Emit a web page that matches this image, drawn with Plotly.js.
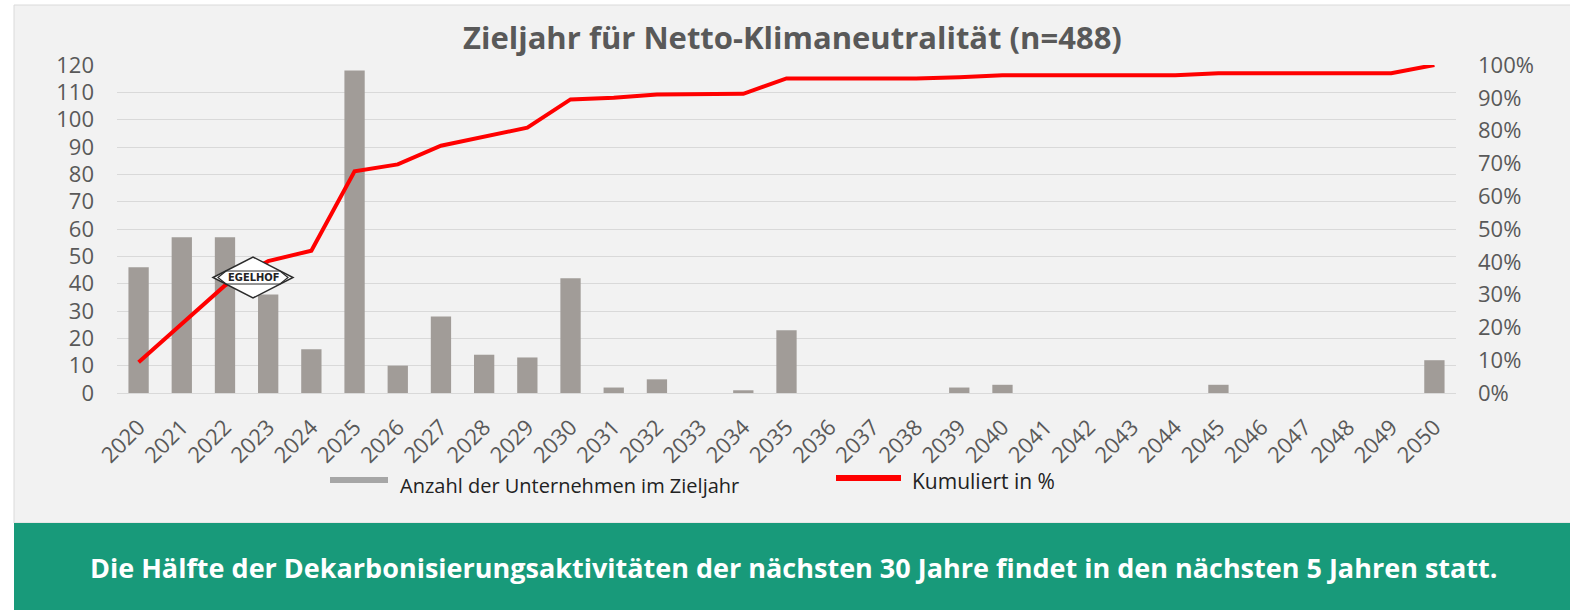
<!DOCTYPE html>
<html>
<head>
<meta charset="utf-8">
<script src="https://cdn.plot.ly/plotly-3.0.1.min.js"></script>
<style>
  html, body { margin: 0; padding: 0; background: #ffffff; }
  #chart { width: 1570px; height: 610px; }
</style>
</head>
<body>
<div id="chart"></div>
<script>
// ---- data ----
const years = ['2020','2021','2022','2023','2024','2025','2026','2027','2028','2029','2030',
               '2031','2032','2033','2034','2035','2036','2037','2038','2039','2040',
               '2041','2042','2043','2044','2045','2046','2047','2048','2049','2050'];
const companies = [46, 57, 57, 36, 16, 118, 10, 28, 14, 13, 42,
                   2, 5, 0, 1, 23, 0, 0, 0, 2, 3,
                   0, 0, 0, 0, 3, 0, 0, 0, 0, 12];
const cumulativePct = [9.4, 21.1, 32.8, 40.2, 43.4, 67.6, 69.7, 75.4, 78.3, 80.9, 89.5,
                       90.0, 91.0, 91.0, 91.2, 95.9, 95.9, 95.9, 95.9, 96.3, 96.9,
                       96.9, 96.9, 96.9, 96.9, 97.5, 97.5, 97.5, 97.5, 97.5, 100];
const leftTicks = [0, 10, 20, 30, 40, 50, 60, 70, 80, 90, 100, 110, 120];
const rightTicks = [0, 10, 20, 30, 40, 50, 60, 70, 80, 90, 100];
const rightTickLabels = ['0%', '10%', '20%', '30%', '40%', '50%', '60%', '70%', '80%', '90%', '100%'];

const chartTitle = 'Zieljahr für Netto-Klimaneutralität (n=488)';
const barName = 'Anzahl der Unternehmen im Zieljahr';
const lineName = 'Kumuliert in %';
const bannerText = 'Die Hälfte der Dekarbonisierungsaktivitäten der nächsten 30 Jahre findet in den nächsten 5 Jahren statt.';

// ---- layout geometry (pixels) ----
const W = 1570, H = 610;
const PL = 117, PR = 1456, PT = 65, PB = 393;
const fx = x => (x - PL) / (PR - PL);
const fy = y => (PB - y) / (PB - PT);
const FONT = 'Open Sans, Noto Sans, sans-serif';
const yTickFont = { family: FONT, size: 22, color: '#595959' };
const xTickFont = { family: FONT, size: 22, color: '#595959' };

const traces = [
  {
    type: 'bar', x: years, y: companies, name: barName, yaxis: 'y',
    marker: { color: '#a19c98', line: { width: 0 } },
    hoverinfo: 'x+y'
  },
  {
    type: 'scatter', mode: 'lines', x: years, y: cumulativePct, name: lineName, yaxis: 'y2',
    line: { color: '#ff0000', width: 4 },
    hoverinfo: 'x+y'
  }
];

// logo (diamond) centre in pixels
const lx = 253, ly = 277.5;
const diamondPath = (cx, cy, hw, hh) =>
  `M ${fx(cx - hw)} ${fy(cy)} L ${fx(cx)} ${fy(cy - hh)} L ${fx(cx + hw)} ${fy(cy)} L ${fx(cx)} ${fy(cy + hh)} Z`;
const bandPath = `M ${fx(lx - 35)} ${fy(ly)} L ${fx(lx - 27)} ${fy(ly - 6.5)} L ${fx(lx + 27)} ${fy(ly - 6.5)} ` +
                 `L ${fx(lx + 35)} ${fy(ly)} L ${fx(lx + 27)} ${fy(ly + 6.5)} L ${fx(lx - 27)} ${fy(ly + 6.5)} Z`;

const shapes = [
  // light panel
  { type: 'rect', xref: 'paper', yref: 'paper', layer: 'below',
    x0: fx(14), x1: fx(1572), y0: fy(5), y1: fy(523),
    fillcolor: '#f2f2f2', line: { color: '#dadada', width: 1 } },
  // green banner
  { type: 'rect', xref: 'paper', yref: 'paper', layer: 'below',
    x0: fx(14), x1: fx(1572), y0: fy(523), y1: fy(612),
    fillcolor: '#189a7a', line: { width: 0 } },
  // legend swatches
  { type: 'rect', xref: 'paper', yref: 'paper',
    x0: fx(330), x1: fx(388), y0: fy(477), y1: fy(483),
    fillcolor: '#a6a6a6', line: { width: 0 } },
  { type: 'rect', xref: 'paper', yref: 'paper',
    x0: fx(836), x1: fx(901), y0: fy(475), y1: fy(481),
    fillcolor: '#ff0000', line: { width: 0 } },
  // logo
  { type: 'path', xref: 'paper', yref: 'paper', path: diamondPath(lx, ly, 40, 20.5),
    fillcolor: '#ffffff', line: { color: '#2b2b2b', width: 1.5 } },
  { type: 'path', xref: 'paper', yref: 'paper', path: bandPath,
    fillcolor: 'rgba(0,0,0,0)', line: { color: '#2b2b2b', width: 1.2 } }
];

const annotations = [
  { xref: 'paper', yref: 'paper', x: fx(792), y: fy(37), xanchor: 'center', yanchor: 'middle',
    showarrow: false, text: chartTitle,
    font: { family: FONT, size: 31, color: '#595959', weight: 700 } },
  { xref: 'paper', yref: 'paper', x: fx(398), y: fy(485), xanchor: 'left', yanchor: 'middle',
    showarrow: false, text: barName,
    font: { family: FONT, size: 20, color: '#222222' } },
  { xref: 'paper', yref: 'paper', x: fx(910), y: fy(481), xanchor: 'left', yanchor: 'middle',
    showarrow: false, text: lineName,
    font: { family: FONT, size: 21, color: '#222222' } },
  { xref: 'paper', yref: 'paper', x: fx(793), y: fy(567), xanchor: 'center', yanchor: 'middle',
    showarrow: false, text: bannerText,
    font: { family: FONT, size: 27, color: '#ffffff', weight: 700 } },
  { xref: 'paper', yref: 'paper', x: fx(lx), y: fy(ly), xanchor: 'center', yanchor: 'middle',
    showarrow: false, text: 'EGELHOF',
    font: { family: 'DejaVu Sans Condensed, DejaVu Sans, sans-serif', size: 11, color: '#222222', weight: 700 } }
];

const layout = {
  width: W, height: H,
  margin: { l: PL, r: W - PR, t: PT, b: H - PB, pad: 0 },
  paper_bgcolor: '#ffffff',
  plot_bgcolor: 'rgba(0,0,0,0)',
  showlegend: false,
  bargap: 0.53,
  font: { family: FONT },
  xaxis: {
    type: 'category', tickangle: -45, tickfont: xTickFont,
    showgrid: false, showline: false, zeroline: false, ticks: '',
    ticklabelstandoff: 16
  },
  yaxis: {
    range: [0, 120], tickvals: leftTicks, tickfont: yTickFont,
    showgrid: true, gridcolor: '#d9d9d9', gridwidth: 1,
    zeroline: true, zerolinecolor: '#d9d9d9', zerolinewidth: 1,
    showline: false, ticks: '', ticklabelstandoff: 22, fixedrange: true
  },
  yaxis2: {
    overlaying: 'y', side: 'right', range: [0, 100],
    tickmode: 'array', tickvals: rightTicks, ticktext: rightTickLabels,
    tickfont: yTickFont, showgrid: false, zeroline: false, showline: false,
    ticks: '', ticklabelstandoff: 21, fixedrange: true
  },
  shapes: shapes,
  annotations: annotations
};

Plotly.newPlot('chart', traces, layout, { displayModeBar: false, responsive: false });
</script>
</body>
</html>
